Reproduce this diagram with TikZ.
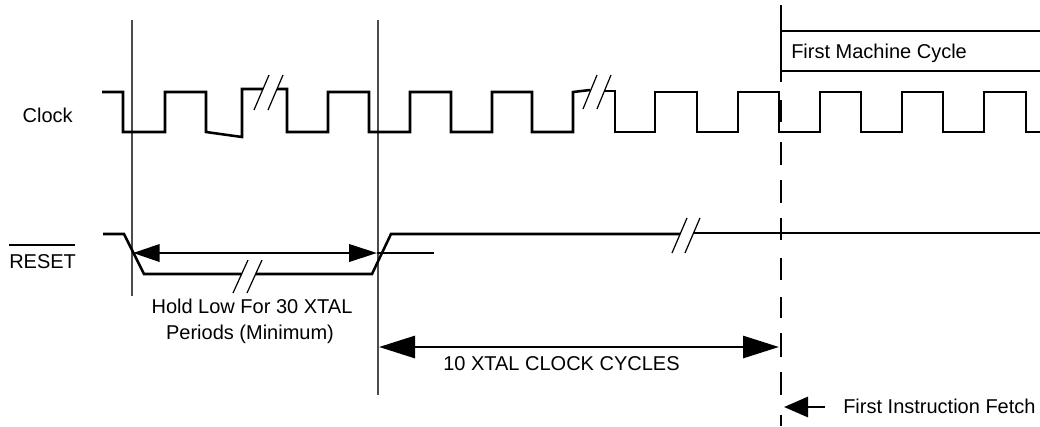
\documentclass[tikz,border=0pt]{standalone}
\usepackage{fontspec}
\setmainfont{Liberation Sans}
\usetikzlibrary{arrows.meta}
\begin{document}
\begin{tikzpicture}[x=0.75pt,y=-0.75pt,
  wave/.style={line width=1.9pt, line join=miter},
  guide/.style={line width=0.8pt, black!70},
  brk/.style={line width=0.9pt},
  markline/.style={line width=1.6pt},
  lbl/.style={inner sep=0pt, font=\fontsize{15}{18}\selectfont},
  holdarrow/.style={line width=2.1pt, {Triangle[length=20pt,width=13pt]}-{Triangle[length=21pt,width=13pt]}},
  xtalarrow/.style={line width=2.2pt, {Triangle[length=27pt,width=16.5pt]}-{Triangle[length=27pt,width=16.5pt]}},
  fetcharrow/.style={line width=2.2pt, -{Triangle[length=18pt,width=15pt]}}]
\useasboundingbox (0,0) rectangle (1040,426);

% guide lines
\coordinate (g1t) at (132,20); \coordinate (g1b) at (132,296);
\coordinate (g2t) at (378,20); \coordinate (g2b) at (378,395);
\draw[guide] (g1t) -- (g1b);
\draw[guide] (g2t) -- (g2b);

% dashed marker line
\foreach \a/\b in {5/82,100/122,142/165,180/203,218/240,258/280,297/318,333/357,372/395,415/426}
  \draw[markline] (781,\a) -- (781,\b);

% first machine cycle
\coordinate (mc1) at (781,31); \coordinate (mc2) at (1040,31);
\coordinate (mc3) at (781,71); \coordinate (mc4) at (1040,71);
\draw[line width=1.7pt] (mc1) -- (mc2);
\draw[line width=1.7pt] (mc3) -- (mc4);
\node[lbl, anchor=base west] (mctext) at (791,58) {First Machine Cycle};

% clock waveform
\draw[wave] (102,92) -- (123,92) -- (123,132) -- (165,132) -- (165,92) -- (206,92) -- (206,132)
  -- (242,137) -- (242,89) -- (263,89);
\draw[wave] (277,89) -- (287,89) -- (287,132) -- (328,132) -- (328,92) -- (369,92) -- (369,132)
  -- (410,132) -- (410,92) -- (451,92) -- (451,132) -- (492,132) -- (492,92) -- (532,92)
  -- (532,132) -- (573,132) -- (573,92) -- (590,90);
\draw[wave] (604,91) -- (615,91) -- (615,132) -- (655,132) -- (655,92) -- (697,92) -- (697,132)
  -- (738,132) -- (738,92) -- (779,92) -- (779,132) -- (820,132) -- (820,92) -- (861,92)
  -- (861,132) -- (902,132) -- (902,92) -- (943,92) -- (943,132) -- (984,132) -- (984,92)
  -- (1026,92) -- (1026,132) -- (1040,132);
\draw[brk] (254,110) -- (269,75);
\draw[brk] (268,110) -- (283,75);
\draw[brk] (583,109) -- (597,75);
\draw[brk] (597,109) -- (611,75);
\node[lbl, anchor=base east] (clk) at (73,122) {Clock};

% reset waveform
\draw[wave] (103,234) -- (124,234) -- (144,274) -- (241.6,274);
\draw[wave] (255.6,274) -- (372,274) -- (391,234) -- (680,234);
\draw[wave] (693,233) -- (1040,233);
\draw[brk] (233,293) -- (248,260);
\draw[brk] (247,293) -- (262,260);
\draw[brk] (672,253) -- (687,218);
\draw[brk] (685,253) -- (700,218);
\node[lbl, anchor=base west] (rst) at (9,268) {RESET};
\draw[line width=1.1pt] (9,245) -- (75,245);

% hold low arrow
\coordinate (hl1) at (133,253); \coordinate (hl2) at (377,253); \coordinate (hl3) at (434,253);
\draw[holdarrow] (hl1) -- (hl2);
\draw[line width=2.1pt] (hl2) -- (hl3);
\node[lbl, anchor=base] (hold1) at (252,313) {Hold Low For 30 XTAL};
\node[lbl, anchor=base] (hold2) at (250,339) {Periods (Minimum)};

% 10 xtal arrow
\coordinate (tx1) at (379,347); \coordinate (tx2) at (779,347);
\draw[xtalarrow] (tx1) -- (tx2);
\node[lbl, anchor=base west] (xtal) at (443,370) {10 XTAL CLOCK CYCLES};

% first instruction fetch
\coordinate (fa1) at (825,407); \coordinate (fa2) at (784,407);
\draw[fetcharrow] (fa1) -- (fa2);
\node[lbl, anchor=base west] (fetch) at (843,413) {First Instruction Fetch};
\end{tikzpicture}
\end{document}
